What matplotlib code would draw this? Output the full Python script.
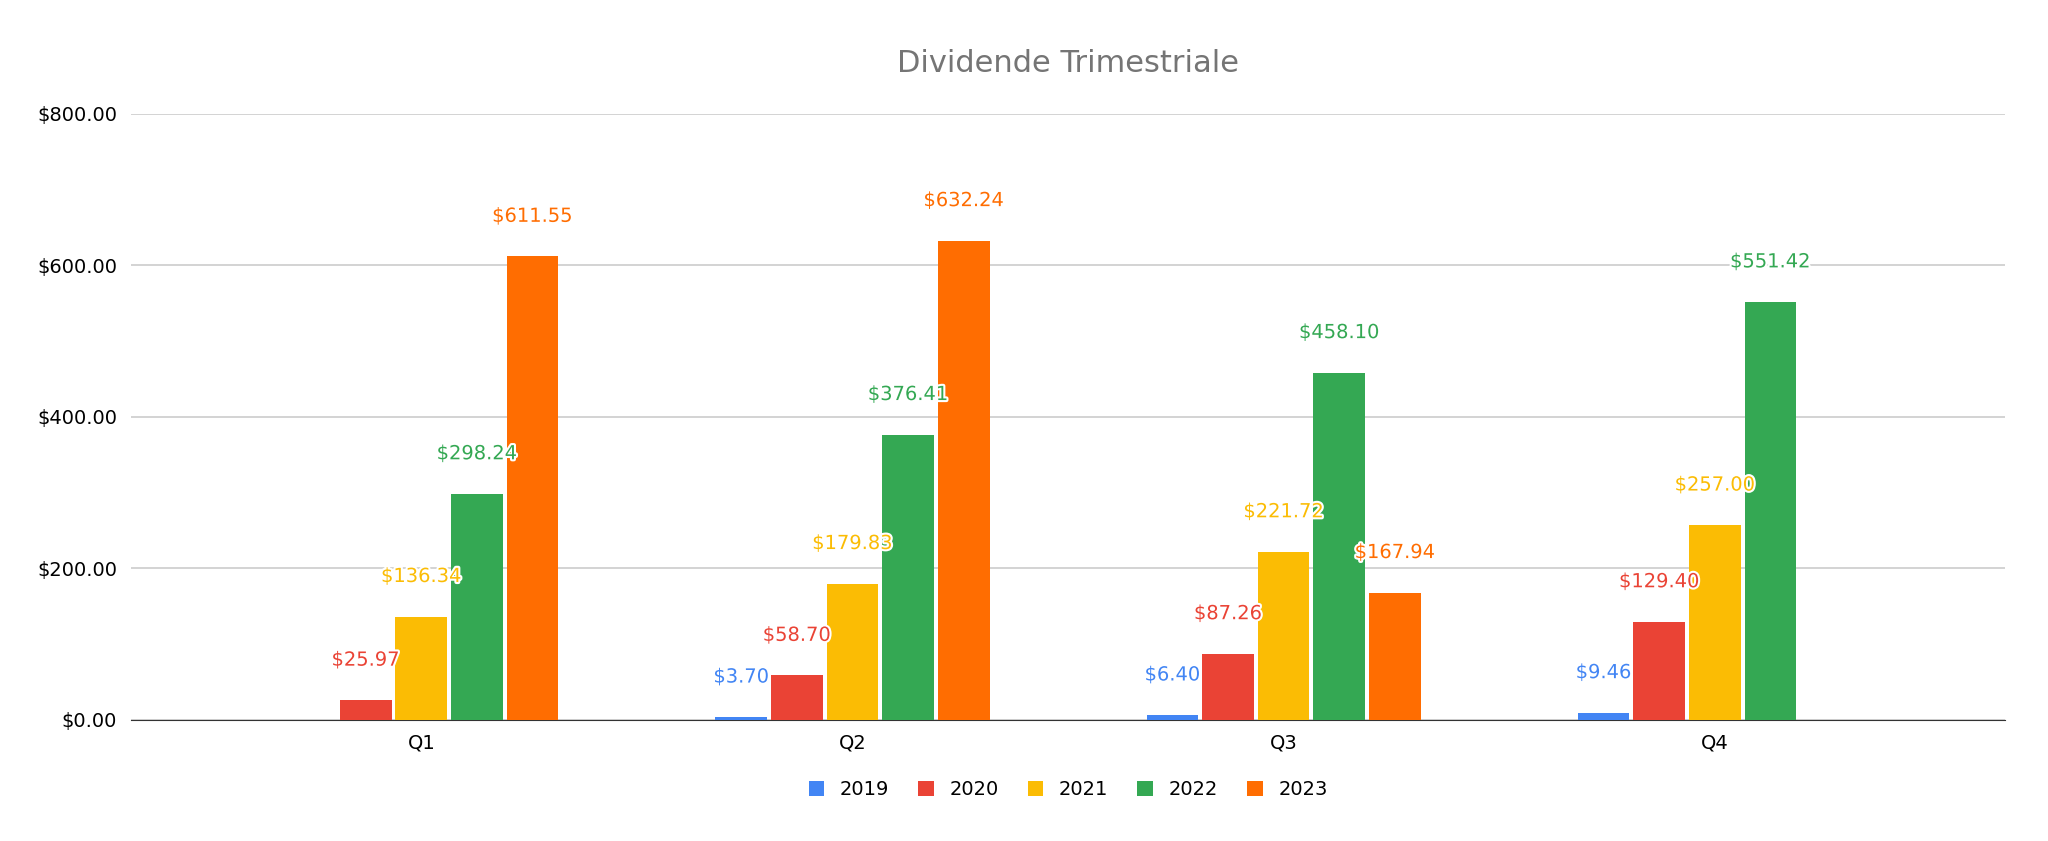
import matplotlib.pyplot as plt
import matplotlib.patheffects as pe
import numpy as np

quarters = ["Q1", "Q2", "Q3", "Q4"]
years = ["2019", "2020", "2021", "2022", "2023"]
v2019 = [None, 3.70, 6.40, 9.46]
v2020 = [25.97, 58.70, 87.26, 129.40]
v2021 = [136.34, 179.83, 221.72, 257.00]
v2022 = [298.24, 376.41, 458.10, 551.42]
v2023 = [611.55, 632.24, 167.94, None]
series = [v2019, v2020, v2021, v2022, v2023]
colors = ["#4285F4", "#EA4335", "#FBBC04", "#34A853", "#FF6D01"]

fig = plt.figure(figsize=(20.48, 8.41), dpi=100)
ax = fig.add_axes([0.064, 0.144, 0.915, 0.721])

x = np.arange(len(quarters))
step, width = 0.129, 0.12
for i, (vals, col, yr) in enumerate(zip(series, colors, years)):
    off = (i - 2) * step
    for xi, v in zip(x, vals):
        if v is None:
            continue
        ax.bar(xi + off, v, width, color=col, zorder=3)
        ax.annotate(f"${v:,.2f}", (xi + off, v), xytext=(0, 22), textcoords="offset points",
                    ha="center", va="bottom", color=col, fontsize=14, zorder=4,
                    path_effects=[pe.withStroke(linewidth=3, foreground="white")])
    ax.bar(0, 0, 0, color=col, label=yr)

ax.set_xlim(-0.673, 3.673)
ax.set_ylim(0, 800)
ax.set_yticks([0, 200, 400, 600, 800])
ax.set_yticklabels([f"${t:,.2f}" for t in [0, 200, 400, 600, 800]], fontsize=14)
ax.set_xticks(x)
ax.set_xticklabels(quarters, fontsize=14)
ax.tick_params(length=0, pad=10)
ax.grid(axis="y", color="#cccccc", linewidth=1.2, zorder=0)
for s in ["top", "right", "left"]:
    ax.spines[s].set_visible(False)
ax.spines["bottom"].set_color("#333333")
ax.set_title("Dividende Trimestriale", fontsize=22, color="#757575", pad=30)
ax.legend(loc="upper center", bbox_to_anchor=(0.5, -0.07), ncol=5, frameon=False,
          fontsize=14, handlelength=0.8, handleheight=0.8, columnspacing=1.5)

fig.savefig("out.png")
